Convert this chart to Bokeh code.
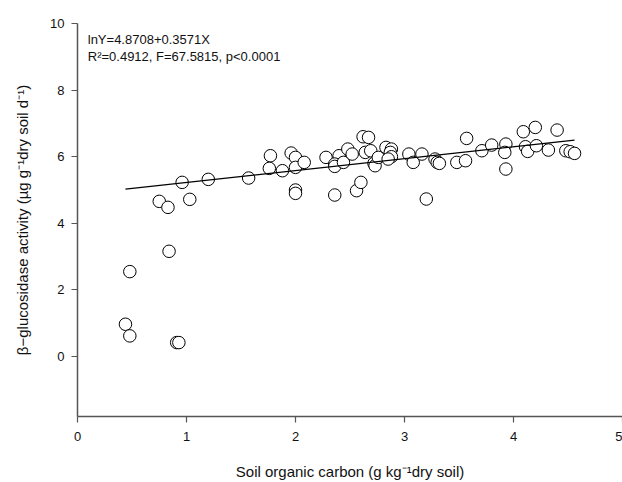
from bokeh.plotting import figure
from bokeh.models import FixedTicker, Label, ColumnDataSource
from bokeh.embed import file_html
from bokeh.resources import INLINE

# Soil organic carbon (g/kg) and beta-glucosidase activity
soc = [0.44, 0.48, 0.48, 0.75, 0.83, 0.84, 0.91, 0.93, 0.96, 1.03, 1.20, 1.57,
       1.77, 1.76, 1.88, 1.96, 2.00, 2.00, 2.00, 2.00, 2.08, 2.28, 2.36, 2.40,
       2.36, 2.36, 2.44, 2.48, 2.52, 2.56, 2.60, 2.62, 2.67, 2.64, 2.69, 2.72,
       2.73, 2.76, 2.83, 2.88, 2.87, 2.88, 2.85, 3.04, 3.08, 3.16, 3.20, 3.28,
       3.30, 3.32, 3.48, 3.56, 3.57, 3.71, 3.80, 3.93, 3.92, 3.93, 4.09, 4.20,
       4.11, 4.13, 4.21, 4.32, 4.40, 4.48, 4.52, 4.56]
activity = [0.97, 0.62, 2.55, 4.66, 4.48, 3.16, 0.42, 0.42, 5.23, 4.72, 5.32, 5.36,
            6.03, 5.65, 5.58, 6.11, 5.98, 5.68, 5.00, 4.90, 5.83, 5.98, 4.85, 6.03,
            5.78, 5.71, 5.83, 6.23, 6.08, 4.98, 5.23, 6.60, 6.58, 6.13, 6.18, 5.80,
            5.73, 5.98, 6.28, 6.23, 6.13, 6.00, 5.93, 6.08, 5.83, 6.08, 4.73, 5.93,
            5.83, 5.80, 5.83, 5.88, 6.55, 6.18, 6.35, 6.38, 6.13, 5.63, 6.75, 6.88,
            6.30, 6.16, 6.33, 6.20, 6.80, 6.18, 6.15, 6.10]

intercept = 4.8708
slope = 0.3571
eq_text = "lnY=4.8708+0.3571X"
stat_text = "R\u00b2=0.4912, F=67.5815, p<0.0001"

x_ticks = [0, 1, 2, 3, 4, 5]
y_ticks = [0, 2, 4, 6, 8, 10]

FONT = "Liberation Sans"

p = figure(
    frame_width=545, frame_height=393,
    x_range=(0, 5), y_range=(-1.8, 10),
    output_backend="svg", toolbar_location=None,
    min_border_left=77, min_border_right=0, min_border_top=23, min_border_bottom=64,
)
p.outline_line_color = None
p.xgrid.grid_line_color = None
p.ygrid.grid_line_color = None
p.background_fill_color = "white"

for ax in (p.xaxis[0], p.yaxis[0]):
    ax.axis_line_color = "#555555"
    ax.axis_line_width = 1.5
    ax.major_tick_line_color = "#555555"
    ax.major_tick_line_width = 1.2
    ax.major_tick_out = 6
    ax.major_tick_in = 0
    ax.minor_tick_line_color = None
    ax.major_label_text_font = FONT
    ax.major_label_text_font_size = "13px"
    ax.major_label_text_color = "#111111"
    ax.axis_label_text_font = FONT
    ax.axis_label_text_font_size = "15px"
    ax.axis_label_text_font_style = "normal"
    ax.axis_label_text_color = "#111111"

p.xaxis[0].ticker = FixedTicker(ticks=x_ticks)
p.yaxis[0].ticker = FixedTicker(ticks=y_ticks)
p.xaxis[0].major_label_standoff = 9
p.yaxis[0].major_label_standoff = 7
p.xaxis[0].axis_label = "Soil organic carbon (g kg\u207b\u00b9dry soil)"
p.yaxis[0].axis_label = "\u03b2\u2212glucosidase activity (\u00b5g g\u207b\u00b9dry soil d\u207b\u00b9)"
p.xaxis[0].axis_label_standoff = 19
p.yaxis[0].axis_label_standoff = 16

src = ColumnDataSource(dict(x=soc, y=activity))
p.scatter("x", "y", source=src, size=12.5, marker="circle",
          fill_color="white", line_color="black", line_width=1)

xmin, xmax = min(soc), max(soc)
p.line([xmin, xmax], [intercept + slope * xmin, intercept + slope * xmax],
       line_color="black", line_width=1.2)

p.add_layout(Label(x=0.094, y=9.28, text=eq_text, text_font=FONT,
                   text_font_size="13px", text_color="#111111"))
p.add_layout(Label(x=0.094, y=8.79, text=stat_text, text_font=FONT,
                   text_font_size="13px", text_color="#111111"))

open("out.html", "w").write(file_html(p, INLINE))
